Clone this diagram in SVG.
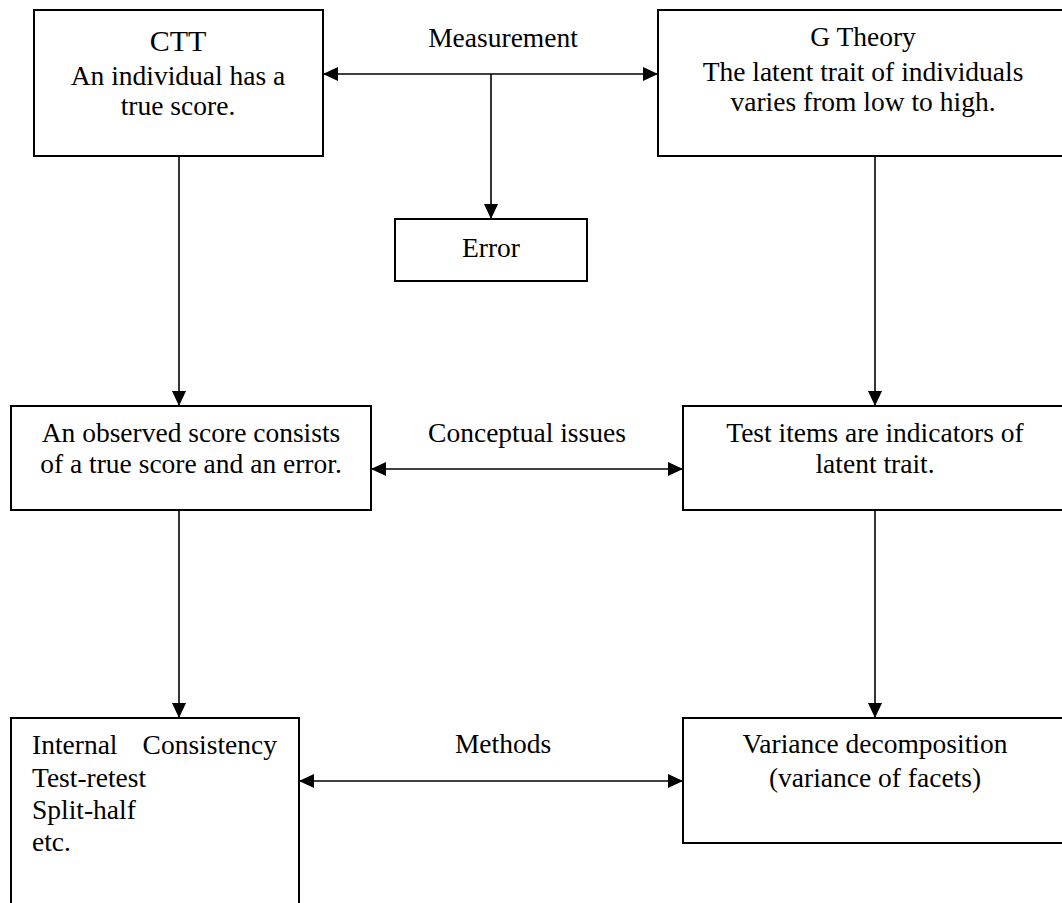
<svg xmlns="http://www.w3.org/2000/svg" width="1062" height="903" viewBox="0 0 1062 903">
<style>
.box{fill:#fff;stroke:#000;stroke-width:2}
.t{font-family:"Liberation Serif","Times New Roman",serif;font-size:27.5px;fill:#000}
.c{text-anchor:middle}
.ln{stroke:#000;stroke-width:1.6;fill:none}
</style>
<defs>
<marker id="ah" viewBox="0 0 15 14" refX="15" refY="7" markerUnits="userSpaceOnUse" markerWidth="15" markerHeight="14" orient="auto-start-reverse">
<path d="M0,0 L15,7 L0,14 z" fill="#000"/>
</marker>
</defs>
<rect width="1062" height="903" fill="#fff"/>
<g id="connectors">
<line class="ln" x1="323" y1="74" x2="658" y2="74" marker-start="url(#ah)" marker-end="url(#ah)"/>
<line class="ln" x1="491" y1="74" x2="491" y2="219" marker-end="url(#ah)"/>
<line class="ln" x1="179" y1="156" x2="179" y2="406" marker-end="url(#ah)"/>
<line class="ln" x1="875" y1="156" x2="875" y2="406" marker-end="url(#ah)"/>
<line class="ln" x1="371" y1="469" x2="683" y2="469" marker-start="url(#ah)" marker-end="url(#ah)"/>
<line class="ln" x1="179" y1="510" x2="179" y2="718" marker-end="url(#ah)"/>
<line class="ln" x1="875" y1="510" x2="875" y2="718" marker-end="url(#ah)"/>
<line class="ln" x1="299" y1="781" x2="683" y2="781" marker-start="url(#ah)" marker-end="url(#ah)"/>
<text class="t c" x="503" y="47">Measurement</text>
<text class="t c" x="527" y="442">Conceptual issues</text>
<text class="t c" x="503" y="753">Methods</text>
</g>
<g id="ctt">
<rect class="box" x="34" y="10" width="289" height="146"/>
<text class="t c" x="178" y="51" style="font-size:30px">CTT</text>
<text class="t c" x="178" y="85">An individual has a</text>
<text class="t c" x="178" y="115">true score.</text>
</g>
<g id="gtheory">
<rect class="box" x="658" y="10" width="412" height="146"/>
<text class="t c" x="863" y="46">G Theory</text>
<text class="t c" x="863" y="81">The latent trait of individuals</text>
<text class="t c" x="863" y="111">varies from low to high.</text>
</g>
<g id="error">
<rect class="box" x="395" y="219" width="192" height="62"/>
<text class="t c" x="491" y="257">Error</text>
</g>
<g id="observed">
<rect class="box" x="11" y="406" width="360" height="104"/>
<text class="t c" x="191" y="442">An observed score consists</text>
<text class="t c" x="191" y="473">of a true score and an error.</text>
</g>
<g id="testitems">
<rect class="box" x="683" y="406" width="387" height="104"/>
<text class="t c" x="875" y="442">Test items are indicators of</text>
<text class="t c" x="875" y="473">latent trait.</text>
</g>
<g id="methodsctt">
<rect class="box" x="11" y="718" width="288" height="195"/>
<text class="t" x="32" y="754">Internal <tspan x="277" text-anchor="end">Consistency</tspan></text>
<text class="t" x="32" y="787">Test-retest</text>
<text class="t" x="32" y="819">Split-half</text>
<text class="t" x="32" y="851">etc.</text>
</g>
<g id="variance">
<rect class="box" x="683" y="718" width="387" height="125"/>
<text class="t c" x="875" y="753">Variance decomposition</text>
<text class="t c" x="875" y="787">(variance of facets)</text>
</g>
</svg>
